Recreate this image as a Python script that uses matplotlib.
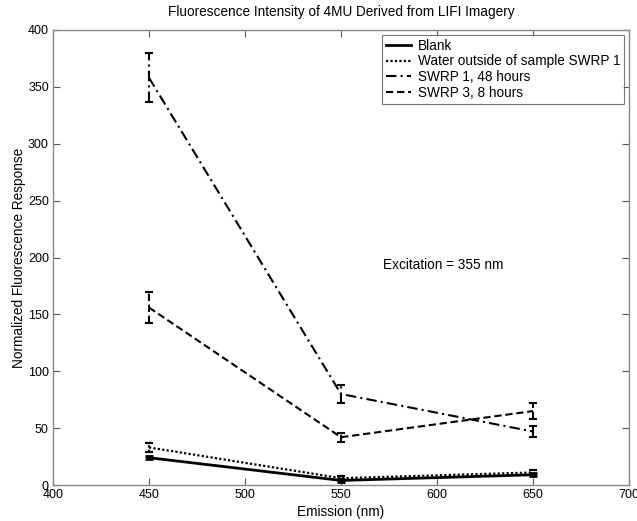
import matplotlib
matplotlib.use("Agg")
import matplotlib.pyplot as plt
from matplotlib.lines import Line2D

plt.rcParams['font.family'] = ['Liberation Sans', 'DejaVu Sans']

emission = [450, 550, 650]
blank = [24, 4, 9]
blank_err = [1.2, 1.2, 1.2]
water = [33, 6, 11]
water_err = [4, 1.5, 2]
swrp1 = [358, 80, 47]
swrp1_err = [21.5, 7.5, 5]
swrp3 = [156, 42, 65]
swrp3_err = [13.6, 4, 7]

fig = plt.figure(figsize=(6.37, 5.21), dpi=100)
L, R, T, B = 53, 629, 30, 485
ax = fig.add_axes([L / 637, 1 - B / 521, (R - L) / 637, (B - T) / 521])

series = [
    (blank, blank_err, '-', 2.0, 'Blank'),
    (water, water_err, (0, (1, 1)), 1.6, 'Water outside of sample SWRP 1'),
    (swrp1, swrp1_err, (0, (5, 2, 1, 2)), 1.5, 'SWRP 1, 48 hours'),
    (swrp3, swrp3_err, (0, (3.5, 1.8)), 1.5, 'SWRP 3, 8 hours'),
]
handles = []
for vals, errs, ls, lw, lab in series:
    cont = ax.errorbar(emission, vals, yerr=errs, color='black', linestyle=ls, linewidth=lw,
                       elinewidth=lw, capsize=3, capthick=lw)
    for bar in cont[2]:
        bar.set_linestyle(ls)
    handles.append(Line2D([], [], color='black', linestyle=ls, linewidth=lw, label=lab))

ax.set_xlim(400, 700)
ax.set_ylim(0, 400)
ax.set_xticks([400, 450, 500, 550, 600, 650, 700])
ax.set_yticks(range(0, 401, 50))
ax.tick_params(direction='in', top=True, right=True, labelsize=9, length=5,
               color='#555555', width=0.8, pad=3)
for s in ax.spines.values():
    s.set_color('#888888')
    s.set_linewidth(1.0)

ax.set_title('Fluorescence Intensity of 4MU Derived from LIFI Imagery', fontsize=9.8, pad=10)
ax.set_xlabel('Emission (nm)', fontsize=9.8, labelpad=3)
ax.set_ylabel('Normalized Fluorescence Response', fontsize=9.8, labelpad=1.5)
ax.text(572, 193, 'Excitation = 355 nm', fontsize=9.8, va='center')

leg = ax.legend(handles=handles, loc='upper right', fontsize=9.8, frameon=True, fancybox=False,
                edgecolor='#555555', borderaxespad=0.35, handlelength=1.85,
                labelspacing=0.12, borderpad=0.3, handletextpad=0.5)
leg.get_frame().set_linewidth(0.8)

fig.savefig('out.png', dpi=100, facecolor='white')
